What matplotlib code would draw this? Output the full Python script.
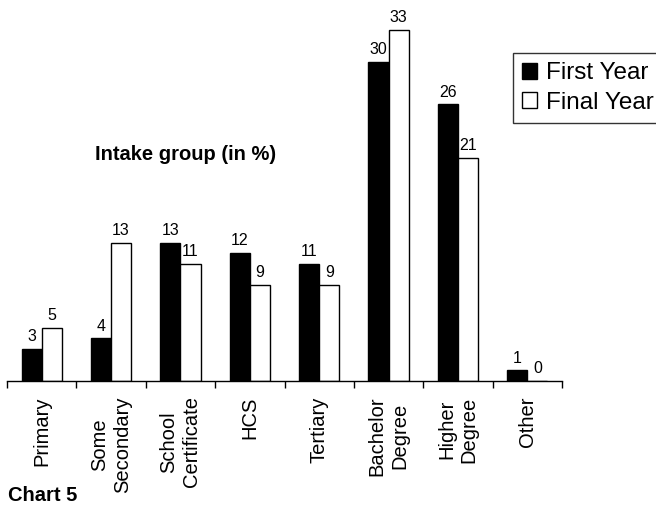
import numpy as np
import matplotlib
matplotlib.use('Agg')
from matplotlib import pyplot as plt
from matplotlib.patches import Patch

plt.rcParams['font.family'] = ['Liberation Sans', 'DejaVu Sans']

'''
chart data
'''
categories = ['Primary', 'Some\nSecondary', 'School\nCertificate', 'HCS',
              'Tertiary', 'Bachelor\nDegree', 'Higher\nDegree', 'Other']
first_year = [3, 4, 13, 12, 11, 30, 26, 1]
final_year = [5, 13, 11, 9, 9, 33, 21, 0]
series_names = ['First Year', 'Final Year']

W, H = 656, 507
fig = plt.figure(figsize=(W / 100, H / 100), dpi=100)
ax = fig.add_axes([7 / W, 1 - 381 / H, 555 / W, 372.3 / H])

x = np.arange(len(categories))
bw = 0.29
b1 = ax.bar(x - bw / 2, first_year, bw, color='black', edgecolor='black', linewidth=1)
b2 = ax.bar(x + bw / 2, final_year, bw, color='white', edgecolor='black', linewidth=1)

for bars, vals in ((b1, first_year), (b2, final_year)):
    for b, v in zip(bars, vals):
        ax.annotate(str(v), (b.get_x() + b.get_width() / 2, b.get_height()),
                    xytext=(0, 3.5), textcoords='offset points',
                    ha='center', va='bottom', fontsize=11.5)

ax.set_xlim(-0.5, len(categories) - 0.5)
ax.set_ylim(0, 35)

# ticks between the groups, labels at the group centres
ax.set_xticks(np.arange(len(categories) + 1) - 0.5)
ax.set_xticklabels([])
ax.tick_params(axis='x', which='major', length=5, width=1, direction='out', color='black')
ax.set_xticks(x, minor=True)
ax.set_xticklabels(categories, minor=True, rotation=90, multialignment='center',
                   linespacing=1.25, fontsize=14.5)
ax.tick_params(axis='x', which='minor', length=0, pad=11)
ax.set_yticks([])

for s in ('top', 'right', 'left'):
    ax.spines[s].set_visible(False)
ax.spines['bottom'].set_linewidth(1)

fig.text(186 / W, 1 - 155 / H, 'Intake group (in %)', ha='center', va='center',
         fontsize=14.5, fontweight='bold')
fig.text(8 / W, 1 - 501 / H, 'Chart 5', ha='left', va='baseline',
         fontsize=14.5, fontweight='bold')

handles = [Patch(facecolor='black', edgecolor='black'),
           Patch(facecolor='white', edgecolor='black')]
leg = fig.legend(handles, series_names, loc='upper left',
                 bbox_to_anchor=(513 / W, 1 - 53 / H), fontsize=17.5,
                 frameon=True, fancybox=False, edgecolor='black',
                 handlelength=0.62, handleheight=0.62, handletextpad=0.35,
                 borderpad=0.38, labelspacing=0.3, borderaxespad=0)
leg.get_frame().set_linewidth(1)

plt.savefig('out.png', dpi=100)
